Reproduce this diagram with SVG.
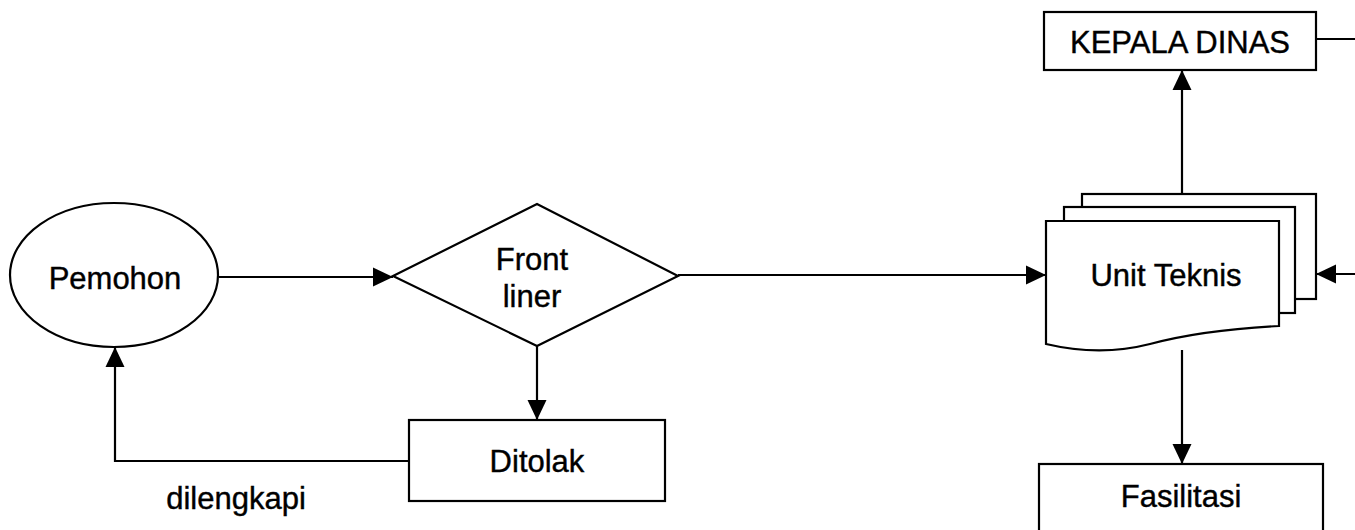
<svg xmlns="http://www.w3.org/2000/svg" width="1355" height="530" viewBox="0 0 1355 530">
<style>
.shape{fill:#fff;stroke:#000;stroke-width:2.2}
.line{fill:none;stroke:#000;stroke-width:2.2}
.t{font-family:"Liberation Sans",Arial,sans-serif;font-size:31px;fill:#000;stroke:#000;stroke-width:0.4;text-anchor:middle}
</style>
<defs>
<marker id="ah" markerUnits="userSpaceOnUse" markerWidth="20" markerHeight="20" refX="20" refY="9.5" orient="auto" viewBox="0 0 20 19">
<path d="M0,0 L20,9.5 L0,19 Z" fill="#000"/>
</marker>
</defs>
<rect width="1355" height="530" fill="#fff"/>
<g id="connectors">
<line class="line" x1="219" y1="277" x2="393" y2="277" marker-end="url(#ah)"/>
<line class="line" x1="537" y1="346" x2="537" y2="420" marker-end="url(#ah)"/>
<polyline class="line" points="409,461 115,461 115,347" marker-end="url(#ah)"/>
<line class="line" x1="678" y1="275" x2="1046" y2="275" marker-end="url(#ah)"/>
<line class="line" x1="1182" y1="194" x2="1182" y2="70" marker-end="url(#ah)"/>
<line class="line" x1="1182" y1="350" x2="1182" y2="464" marker-end="url(#ah)"/>
<line class="line" x1="1355" y1="274" x2="1316" y2="274" marker-end="url(#ah)"/>
<line class="line" x1="1316" y1="39" x2="1355" y2="39"/>
</g>
<g id="pemohon">
<ellipse class="shape" cx="114" cy="275" rx="104" ry="72"/>
<text class="t" x="115" y="289">Pemohon</text>
</g>
<g id="frontliner">
<polygon class="shape" points="393,276 537,204 678,276 537,346"/>
<text class="t" x="532" y="270">Front</text>
<text class="t" x="532" y="307">liner</text>
</g>
<g id="ditolak">
<rect class="shape" x="409" y="420" width="256" height="81"/>
<text class="t" x="537" y="472">Ditolak</text>
</g>
<g id="label-dilengkapi">
<text class="t" x="236" y="509">dilengkapi</text>
</g>
<g id="unitteknis">
<rect class="shape" x="1082" y="194" width="234" height="105"/>
<rect class="shape" x="1064" y="207" width="231" height="106"/>
<path class="shape" d="M1046,221 H1279 V326 C1220,329 1180,336 1150,344 C1115,353 1080,352 1046,344 Z"/>
<text class="t" x="1166" y="286">Unit Teknis</text>
</g>
<g id="kepaladinas">
<rect class="shape" x="1044" y="12" width="272" height="58"/>
<text class="t" x="1180" y="53">KEPALA DINAS</text>
</g>
<g id="fasilitasi">
<rect class="shape" x="1039" y="464" width="284" height="80"/>
<text class="t" x="1181" y="507">Fasilitasi</text>
</g>
</svg>
